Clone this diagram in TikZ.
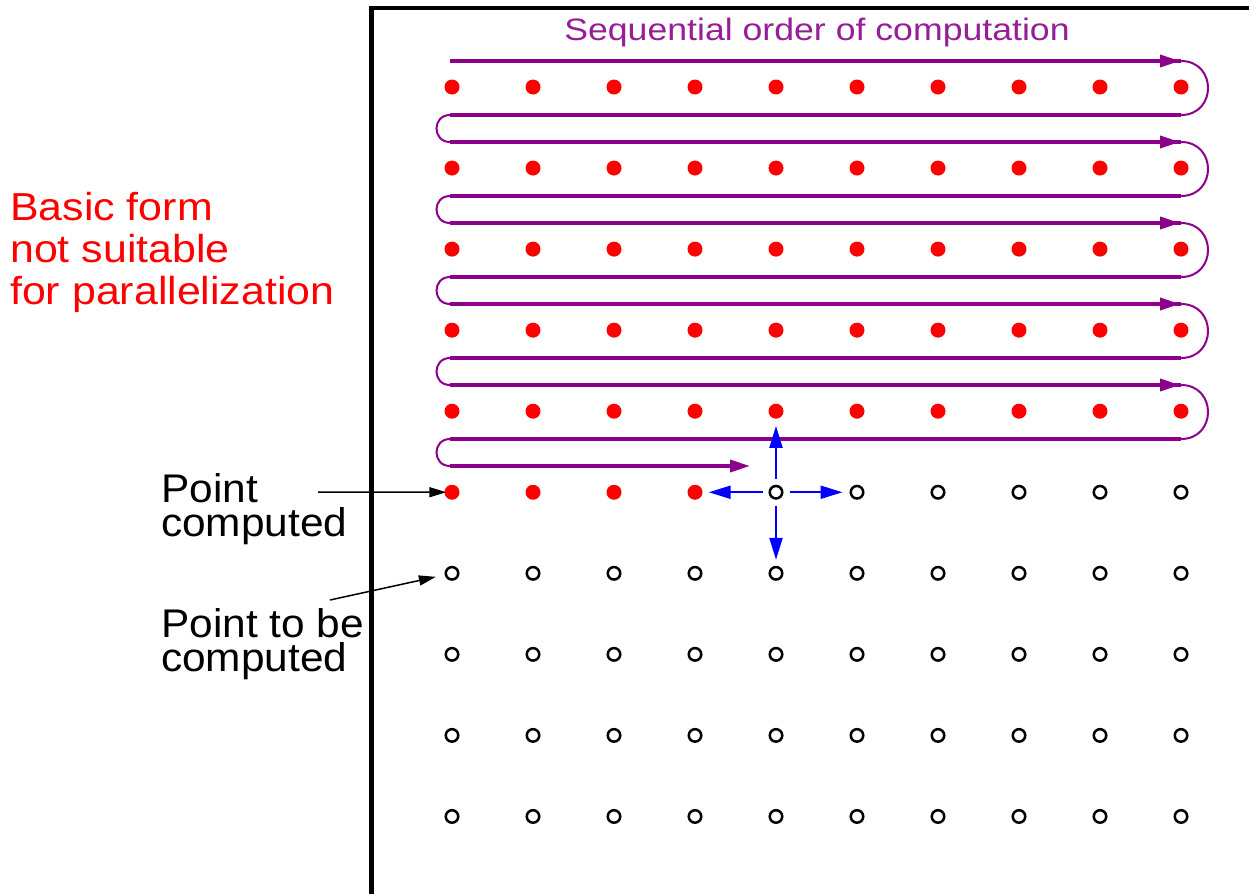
\documentclass[tikz,border=0pt]{standalone}
\usepackage{fontspec}
\setmainfont{Liberation Sans}
\usetikzlibrary{arrows.meta}
\definecolor{pp}{RGB}{140,0,140}
\definecolor{ptitle}{RGB}{150,30,150}
\begin{document}
\begin{tikzpicture}[x=1pt,y=-1pt,
  done/.style={circle,fill=red,minimum size=15pt,inner sep=0pt},
  todo/.style={circle,draw=black,line width=2.5pt,minimum size=12.5pt,inner sep=0pt},
  pline/.style={draw=pp,line width=3.5pt},
  parc/.style={draw=pp,line width=2pt},
  ptip/.style={draw=pp,line width=3.5pt,-{Triangle[length=20pt,width=12pt]}},
  barrow/.style={draw=blue,line width=2.2pt,-{Triangle[length=22pt,width=13pt]}},
  karrow/.style={draw=black,line width=1.5pt,-{Triangle[length=17pt,width=10pt]}},
  lbl/.style={inner sep=0pt,anchor=base west}]
\useasboundingbox (0,0) rectangle (1249,894);
\fill[white] (0,0) rectangle (1249,894);
% frame
\draw[line width=4.5pt,line join=miter] (371.5,894) -- (371.5,8) -- (1249,8);
% grid
\foreach \r in {0,...,9} {
  \foreach \c in {0,...,9} {
    \pgfmathsetmacro\px{452+81*\c}
    \pgfmathsetmacro\py{87+81.05*\r}
    \pgfmathtruncatemacro\isdone{(\r<5) || (\r==5 && \c<4)}
    \ifnum\isdone=1
      \node[done] (p-\r-\c) at (\px,\py) {};
    \else
      \node[todo] (p-\r-\c) at (\px,\py) {};
    \fi
  }
}
% serpentine
\foreach \k in {0,...,4} {
  \pgfmathsetmacro\ya{61+81*\k}
  \pgfmathsetmacro\yb{115+81*\k}
  \pgfmathsetmacro\yc{142+81*\k}
  \draw[pline] (450,\ya) -- (1181,\ya);
  \draw[parc] (1181,\ya) .. controls (1217,\ya) and (1217,\yb) .. (1181,\yb);
  \draw[pline] (1181,\yb) -- (450,\yb);
  \draw[parc] (450,\yb) .. controls (432,\yb) and (432,\yc) .. (450,\yc);
  \draw[ptip] (1140,\ya) -- (1180,\ya);
}
\draw[ptip] (450,466) -- (750,466);
% blue neighbour arrows
\draw[barrow,shorten <=6pt,shorten >=6pt] (p-5-4) -- (p-5-3);
\draw[barrow,shorten <=6pt,shorten >=7pt] (p-5-4) -- (p-5-5);
\draw[barrow,shorten <=6pt,shorten >=7pt] (p-5-4) -- (p-4-4);
\draw[barrow,shorten <=6pt,shorten >=6pt] (p-5-4) -- (p-6-4);
% texts
\node[lbl,text=ptitle,font=\fontsize{31}{31}\selectfont,anchor=base,xscale=1.15] (title) at (817,40) {Sequential order of computation};
\node[lbl,text=red,font=\fontsize{39}{39}\selectfont,xscale=1.1] (r1) at (10,220) {Basic form};
\node[lbl,text=red,font=\fontsize{39}{39}\selectfont,xscale=1.1] (r2) at (10,262) {not suitable};
\node[lbl,text=red,font=\fontsize{39}{39}\selectfont,xscale=1.1] (r3) at (10,304) {for parallelization};
\node[lbl,font=\fontsize{40}{40}\selectfont,xscale=1.06] (a1) at (161,502) {Point};
\node[lbl,font=\fontsize{40}{40}\selectfont,xscale=1.06] (a2) at (161,536) {computed};
\node[lbl,font=\fontsize{40}{40}\selectfont,xscale=1.06] (b1) at (161,637) {Point to be};
\node[lbl,font=\fontsize{40}{40}\selectfont,xscale=1.06] (b2) at (161,671) {computed};
% black pointers
\coordinate (ta) at (318,492);
\coordinate (tb) at (330,600);
\draw[karrow,shorten >=-2pt] (ta) -- (p-5-0);
\draw[karrow,shorten >=9pt] (tb) -- (p-6-0);
\end{tikzpicture}
\end{document}
